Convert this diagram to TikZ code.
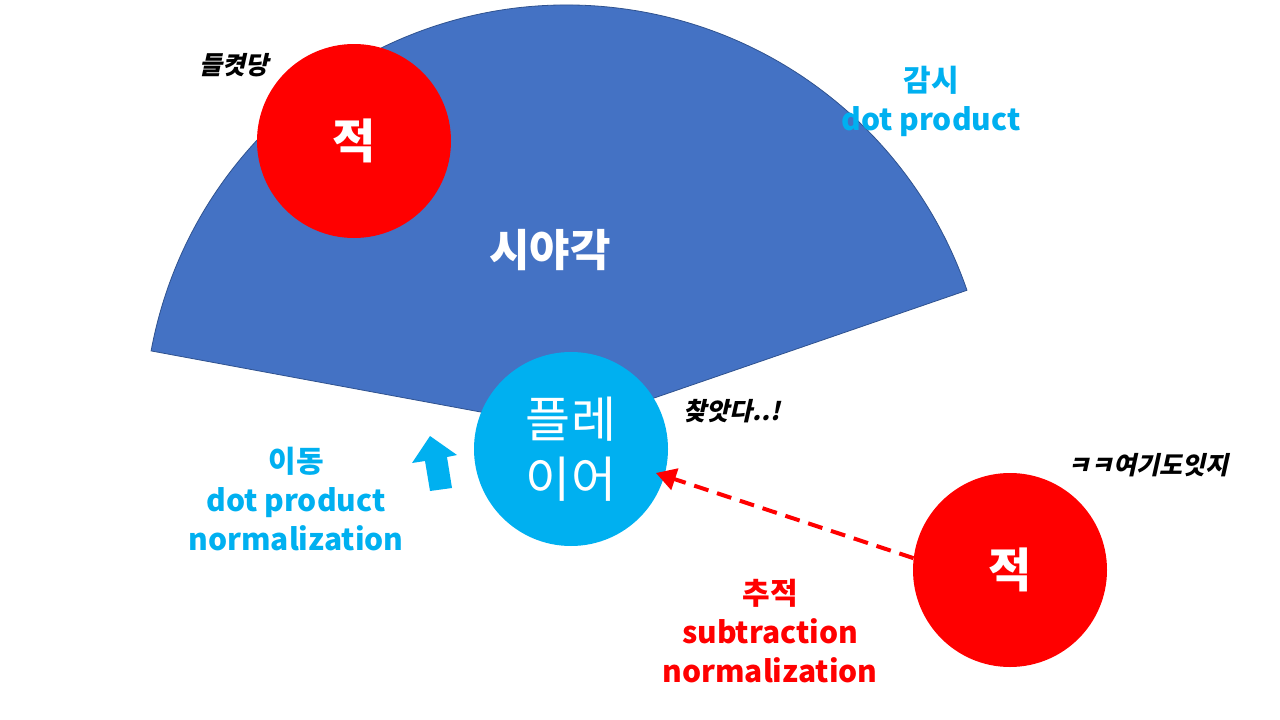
\documentclass[tikz,border=0pt]{standalone}
\usepackage{fontspec}
\usetikzlibrary{arrows.meta}
\newfontfamily\kr{Noto Sans CJK KR}
\newfontfamily\krsl[FakeSlant=0.22]{Noto Sans CJK KR}
\definecolor{sectorfill}{HTML}{4472C4}
\definecolor{sectorline}{HTML}{2F528F}
\definecolor{cyanc}{HTML}{00B0F0}
\tikzset{
  enemy/.style={circle, fill=red, minimum size=194pt, inner sep=0pt, text=white,
    font=\kr\bfseries\fontsize{47}{56}\selectfont},
  playerc/.style={circle, fill=cyanc, minimum size=194pt, inner sep=0pt, text=white, align=center,
    font=\kr\fontsize{49}{60}\selectfont},
  biglabel/.style={align=center, font=\kr\bfseries\fontsize{30}{39}\selectfont},
  quip/.style={font=\krsl\bfseries\fontsize{25}{30}\selectfont, text=black},
  chase/.style={draw=red, line width=4pt, dash pattern=on 15pt off 9pt,
    -{Triangle[length=20pt,width=22pt]}, shorten >=-9pt},
}
\begin{document}
\begin{tikzpicture}[x=1pt,y=-1pt]
\useasboundingbox[fill=white] (0,0) rectangle (1280,720);
% field of view sector
\coordinate (apex) at (567,428);
\filldraw[fill=sectorfill, draw=sectorline, line width=0.8pt]
  (apex) -- ++(169.5:423pt) arc[start angle=169.5, end angle=19, radius=423pt] -- cycle;
\node[font=\kr\bfseries\fontsize{44}{52}\selectfont, text=white] (fov) at (550,250) {시야각};
% circles
\node[enemy] (e1) at (354,141) {적};
\node[playerc] (p) at (571,449) {플레\\이어};
\node[enemy] (e2) at (1010,570) {적};
% labels
\node[biglabel, text=cyanc] (watch) at (931,101) {감시\\dot product};
\node[biglabel, text=cyanc] (move) at (296,499) {이동\\dot product\\normalization};
\node[biglabel, text=red] (track) at (770,631) {추적\\subtraction\\normalization};
\node[quip] (q1) at (234,65) {들켯당};
\node[quip] (q2) at (732,411) {찾앗다..!};
\node[quip] (q3) at (1148,465) {ㅋㅋ여기도잇지};
% movement arrow
\fill[cyanc] (430,436) -- (457,455) -- (447,457) -- (452,488) -- (430,491) -- (425,461) -- (412,463) -- cycle;
% chase arrow
\draw[chase] (e2.173) -- (p.-16);
\end{tikzpicture}
\end{document}
